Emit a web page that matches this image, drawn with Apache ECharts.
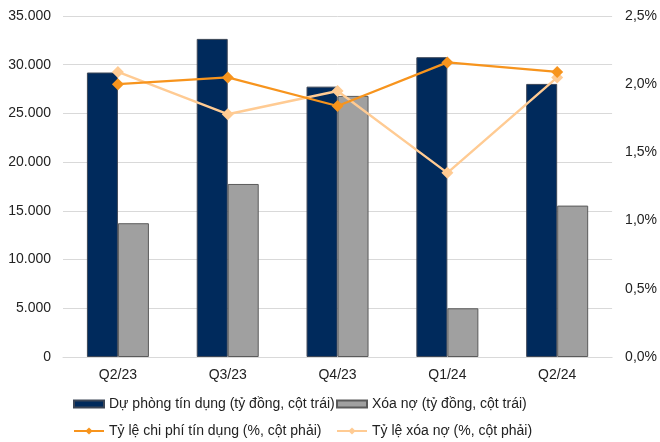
<!DOCTYPE html>
<html>
<head>
<meta charset="utf-8">
<script src="https://cdn.jsdelivr.net/npm/echarts@6/dist/echarts.min.js"></script>
<style>
  html, body { margin: 0; padding: 0; background: #ffffff; }
  #chart { width: 660px; height: 442px; }
</style>
</head>
<body>
<div id="chart"></div>
<script>
// Quarterly provisions and write-offs (billion VND, left axis)
const quarters = ['Q2/23', 'Q3/23', 'Q4/23', 'Q1/24', 'Q2/24'];
const provisions = [29200, 32650, 27750, 30770, 28030];
const writeOffs = [13730, 17760, 26800, 5000, 15540];
// Ratios in percent (right axis)
const creditCostRatio = [2.00, 2.05, 1.84, 2.16, 2.09];
const writeOffRatio = [2.09, 1.78, 1.95, 1.35, 2.05];

const seriesNames = [
  'Dự phòng tín dụng (tỷ đồng, cột trái)',
  'Xóa nợ (tỷ đồng, cột trái)',
  'Tỷ lệ chi phí tín dụng (%, cột phải)',
  'Tỷ lệ xóa nợ (%, cột phải)'
];

const FONT = 'Liberation Sans, Arial, sans-serif';
const TEXT = '#222222';

function fmtThousands(v) {
  return String(v).replace(/\B(?=(\d{3})+(?!\d))/g, '.');
}
function fmtPercent(v) {
  return v.toFixed(1).replace('.', ',') + '%';
}

const chart = echarts.init(document.getElementById('chart'), null, { renderer: 'canvas' });

const legendText = { fontFamily: FONT, fontSize: 14, color: TEXT };

// one legend entry per slot, two rows by two columns
function legendAt(name, left, top, itemHeight, icon) {
  const entry = { name: name };
  if (icon) entry.icon = icon;
  return {
    left: left, top: top, itemWidth: 30, itemHeight: itemHeight, itemGap: 0,
    padding: 0, textStyle: legendText, data: [entry], selectedMode: false
  };
}

chart.setOption({
  animation: false,
  backgroundColor: '#ffffff',
  grid: { left: 63, right: 47, top: 16, bottom: 85, containLabel: false },
  legend: [
    legendAt(seriesNames[0], 73, 397, 7, 'rect'),
    legendAt(seriesNames[1], 336, 397, 7, 'rect'),
    legendAt(seriesNames[2], 73, 424, 9),
    legendAt(seriesNames[3], 336, 424, 9)
  ],
  xAxis: {
    type: 'category',
    data: quarters,
    axisLine: { show: true, lineStyle: { color: '#d9d9d9', width: 1 } },
    axisTick: { show: false },
    axisLabel: { fontFamily: FONT, fontSize: 14, color: TEXT, margin: 11 }
  },
  yAxis: [
    {
      type: 'value', min: 0, max: 35000, interval: 5000,
      axisLine: { show: false }, axisTick: { show: false },
      splitLine: { lineStyle: { color: '#d9d9d9', width: 1 } },
      axisLabel: { fontFamily: FONT, fontSize: 14, color: TEXT, margin: 12, formatter: fmtThousands }
    },
    {
      type: 'value', min: 0, max: 2.5, interval: 0.5,
      axisLine: { show: false }, axisTick: { show: false },
      splitLine: { show: false },
      axisLabel: { fontFamily: FONT, fontSize: 14, color: TEXT, margin: 13, formatter: fmtPercent }
    }
  ],
  series: [
    {
      name: seriesNames[0],
      type: 'bar', yAxisIndex: 0, data: provisions,
      barWidth: 31, barGap: '0%',
      itemStyle: { color: '#002a5c', borderColor: '#3c4656', borderWidth: 1 }
    },
    {
      name: seriesNames[1],
      type: 'bar', yAxisIndex: 0, data: writeOffs,
      barWidth: 31, barGap: '0%',
      itemStyle: { color: '#a0a0a0', borderColor: '#5a5a5a', borderWidth: 1 }
    },
    {
      name: seriesNames[2],
      type: 'line', yAxisIndex: 1, data: creditCostRatio,
      symbol: 'diamond', symbolSize: 12, z: 4,
      lineStyle: { color: '#f7941d', width: 2.2 },
      itemStyle: { color: '#f7941d' }
    },
    {
      name: seriesNames[3],
      type: 'line', yAxisIndex: 1, data: writeOffRatio,
      symbol: 'diamond', symbolSize: 12, z: 3,
      lineStyle: { color: '#ffcb93', width: 2.4 },
      itemStyle: { color: '#ffcb93' }
    }
  ]
});
</script>
</body>
</html>
